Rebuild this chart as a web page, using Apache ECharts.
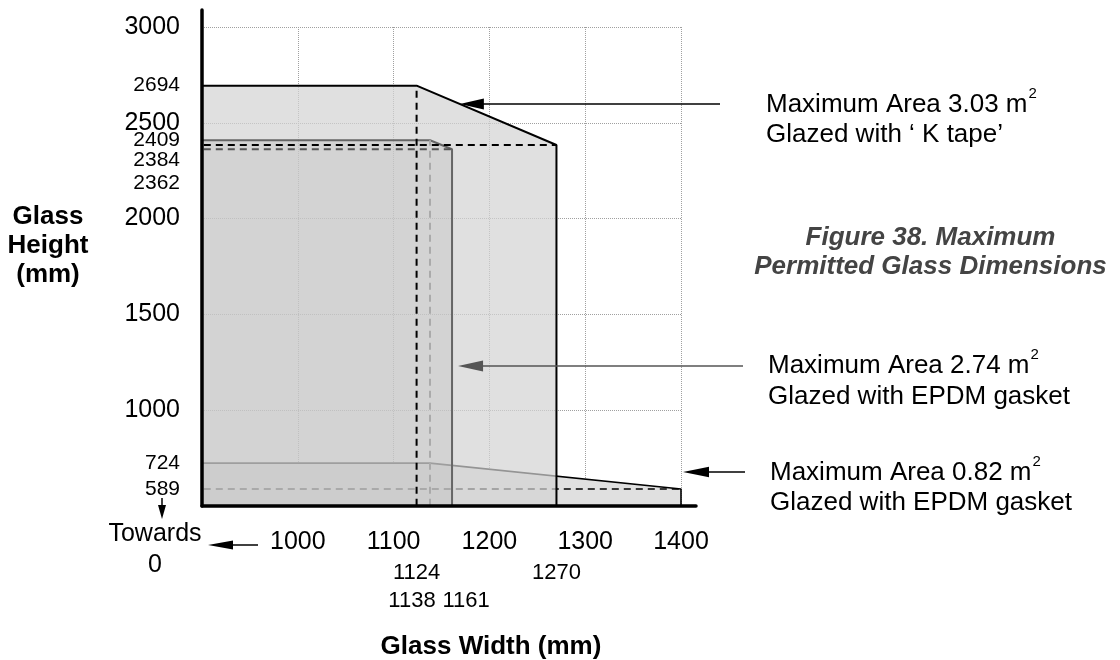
<!DOCTYPE html>
<html>
<head>
<meta charset="utf-8">
<script src="https://cdn.jsdelivr.net/npm/echarts@6/dist/echarts.min.js"></script>
<style>
html,body{margin:0;padding:0;background:#fff;}
#c{width:1120px;height:660px;}
</style>
</head>
<body>
<div id="c"></div>
<script>
// ---------------- data ----------------
const xTickValues = [1000, 1100, 1200, 1300, 1400];
const yTickValues = [1000, 1500, 2000, 2500, 3000];
const yMarkValues = [2694, 2409, 2384, 2362, 724, 589];
const xMarkRow2 = [1124, 1270];
const xMarkRow3 = [1138, 1161];

// K tape limit (3.03 m2)
const kTapeWidth  = [0, 1124, 1270, 1270];
const kTapeHeight = [2694, 2694, 2384, 0];
// EPDM gasket limit (2.74 m2)
const epdmWidth  = [0, 1138, 1161, 1161];
const epdmHeight = [2409, 2409, 2362, 0];
// EPDM gasket, wide panes (0.82 m2)
const gasketWidth  = [0, 1138, 1400, 1400];
const gasketHeight = [724, 724, 589, 0];

const maxAreas = ['3.03', '2.74', '0.82'];
const glazing = ['Glazed with \u2018 K tape\u2019', 'Glazed with EPDM gasket', 'Glazed with EPDM gasket'];

// ---------------- styling helpers ----------------
const FONT = '"Liberation Sans", Arial, sans-serif';
const zip = (xs, ys) => xs.map((x, i) => [x, ys[i]]);

const yBig = new Set(yTickValues);
const yShift = {2384: 15, 2362: 34};
const yRich = { big: {fontSize: 25, fontFamily: FONT, color: '#000'} };
yMarkValues.forEach(v => {
  const s = yShift[v] || 0;
  yRich['y' + v] = {fontSize: 21, fontFamily: FONT, color: '#000',
    padding: s >= 0 ? [2 * s, 0, 0, 0] : [0, 0, -2 * s, 0]};
});
const yLabelValues = yTickValues.concat(yMarkValues).sort((a, b) => a - b);

const xShift = {1138: -18, 1161: 14};
const xRich = {};
xMarkRow2.concat(xMarkRow3).forEach(v => {
  const s = xShift[v] || 0;
  xRich['x' + v] = {fontSize: 22, fontFamily: FONT, color: '#000',
    padding: s >= 0 ? [0, 0, 0, 2 * s] : [0, -2 * s, 0, 0]};
});

const X_MIN = 900, X_MAX = 1400;
const Y_MIN = 500, Y_MAX = 3000;
function xRowAxis(values, margin) {
  return {type: 'value', gridIndex: 0, position: 'bottom', min: X_MIN, max: X_MAX, interval: 100,
    axisLine: {show: false, onZero: false}, axisTick: {show: false}, splitLine: {show: false},
    axisLabel: {customValues: values, margin: margin, formatter: v => '{x' + v + '|' + v + '}', rich: xRich}};
}

function lineSeries(name, data, color, width, type, z, area) {
  const s = {name, type: 'line', xAxisIndex: 0, yAxisIndex: 0, data,
    symbol: 'none', showSymbol: false, silent: true, z,
    lineStyle: {color, width, type: type || 'solid'},
    emphasis: {disabled: true}};
  if (area) s.areaStyle = {color: area, opacity: 1};
  return s;
}

const option = {
  animation: false,
  backgroundColor: '#fff',
  grid: [
    {left: 202, top: 27, width: 479, height: 479},
    {left: 202, top: 10, width: 494, height: 496}
  ],
  xAxis: [
    {type: 'value', gridIndex: 0, position: 'bottom', min: X_MIN, max: X_MAX, interval: 100,
      axisLine: {show: false, onZero: false}, axisTick: {show: false},
      axisLabel: {customValues: xTickValues, margin: 24, fontSize: 25, fontFamily: FONT, color: '#000',
        formatter: v => String(v)},
      splitLine: {show: true, lineStyle: {color: '#a0a0a0', type: 'dotted', width: 1}}},
    xRowAxis(xMarkRow2, 56),
    xRowAxis(xMarkRow3, 84),
    {type: 'value', gridIndex: 1, position: 'bottom', min: 0, max: 1, z: 20,
      axisLine: {show: true, onZero: false, lineStyle: {color: '#000', width: 3.5}},
      axisTick: {show: false}, axisLabel: {show: false}, splitLine: {show: false}}
  ],
  yAxis: [
    {type: 'value', gridIndex: 0, position: 'left', min: Y_MIN, max: Y_MAX, interval: 500,
      axisLine: {show: false, onZero: false}, axisTick: {show: false},
      axisLabel: {customValues: yLabelValues, margin: 22,
        formatter: v => yBig.has(v) ? '{big|' + v + '}' : '{y' + v + '|' + v + '}', rich: yRich},
      splitLine: {show: true, lineStyle: {color: '#a0a0a0', type: 'dotted', width: 1}}},
    {type: 'value', gridIndex: 1, position: 'left', min: 0, max: 1, z: 20,
      axisLine: {show: true, onZero: false, lineStyle: {color: '#000', width: 3.5}},
      axisTick: {show: false}, axisLabel: {show: false}, splitLine: {show: false}}
  ],
  series: [
    lineSeries('gasket082', zip(gasketWidth, gasketHeight), '#000', 1.6, 'solid', 2, '#e0e0e0'),
    lineSeries('gasket082-h', [[0, gasketHeight[2]], [gasketWidth[2], gasketHeight[2]]], '#000', 1.6, [7, 5], 2),
    lineSeries('ktape', zip(kTapeWidth, kTapeHeight), '#000', 2, 'solid', 3, 'rgba(211,211,211,0.7)'),
    lineSeries('epdm', zip(epdmWidth, epdmHeight), '#666', 2, 'solid', 4, 'rgba(181,181,181,0.3)'),
    lineSeries('epdm-v', [[epdmWidth[1], 0], [epdmWidth[1], epdmHeight[1]]], '#aaa', 2, [7, 5], 5),
    lineSeries('epdm-h', [[0, epdmHeight[2]], [epdmWidth[2], epdmHeight[2]]], '#555', 2, [7, 5], 5),
    lineSeries('ktape-h', [[0, kTapeHeight[2]], [kTapeWidth[2], kTapeHeight[2]]], '#000', 2, [7, 5], 5),
    lineSeries('ktape-v', [[kTapeWidth[1], 0], [kTapeWidth[1], kTapeHeight[1]]], '#000', 2, [7, 5], 5)
  ]
};

const chart = echarts.init(document.getElementById('c'));
chart.setOption(option);

// ---------------- annotations ----------------
const P = (x, y) => chart.convertToPixel({seriesIndex: 0}, [x, y]);
const cv = document.createElement('canvas').getContext('2d');
function textW(str, size) { cv.font = size + 'px "Liberation Sans"'; return cv.measureText(str).width; }

function txt(x, y, text, font, align, fill, lineHeight) {
  return {type: 'text', silent: true, z: 100,
    style: {x, y, text, font, align, textAlign: align, verticalAlign: 'middle', textVerticalAlign: 'middle',
      fill: fill || '#000', lineHeight: lineHeight}};
}
function hArrow(tipX, y, tailX, color, headLen, half, lw) {
  return [
    {type: 'line', silent: true, z: 100, shape: {x1: tipX + headLen - 2, y1: y, x2: tailX, y2: y},
      style: {stroke: color, lineWidth: lw}},
    {type: 'polygon', silent: true, z: 100,
      shape: {points: [[tipX, y], [tipX + headLen, y - half], [tipX + headLen, y + half]]},
      style: {fill: color}}
  ];
}
function note(x, y1, y2, idx) {
  const main = 'Maximum Area ' + maxAreas[idx] + ' m';
  return [
    txt(x, y1, main, '26px ' + FONT, 'left'),
    txt(x + textW(main, 26) + 1, y1 - 11, '2', '15px ' + FONT, 'left'),
    txt(x, y2, glazing[idx], '26px ' + FONT, 'left')
  ];
}

// arrow tip on the K-tape slope at y = 104 px
const a = P(kTapeWidth[1], kTapeHeight[1]), b = P(kTapeWidth[2], kTapeHeight[2]);
const yK = 104;
const tK = (yK - a[1]) / (b[1] - a[1]);
const tipK = a[0] + tK * (b[0] - a[0]);
const tipE = P(epdmWidth[2], 1500)[0] + 6;
const tipG = P(gasketWidth[2], Y_MIN)[0] + 2;
const y589 = P(X_MIN, gasketHeight[2])[1];

let g = [];
g = g.concat(hArrow(tipK, yK, 720, '#000', 24, 5.5, 1.5));
g = g.concat(hArrow(tipE, 366, 743, '#555', 25, 5.5, 1.5));
g = g.concat(hArrow(tipG, 472, 745, '#000', 26, 5.3, 1.5));
g = g.concat(note(766, 104.6, 134.5, 0));
g = g.concat(note(768, 366, 397, 1));
g = g.concat(note(770, 472.5, 503, 2));

// "Towards 0" arrows
const downStart = y589 + 9, downTip = 519;
g.push({type: 'line', silent: true, z: 100, shape: {x1: 162, y1: downStart, x2: 162, y2: downTip - 10},
  style: {stroke: '#000', lineWidth: 1.5}});
g.push({type: 'polygon', silent: true, z: 100,
  shape: {points: [[162, downTip], [158, downTip - 14], [166, downTip - 14]]},
  style: {fill: '#000'}});
g = g.concat(hArrow(208, 545, 258, '#000', 25, 4.5, 1.5));
g.push(txt(155, 549.5, 'Towards\n0', '25px ' + FONT, 'center', '#000', 31));

// axis titles and caption
g.push(txt(48, 246, 'Glass\nHeight\n(mm)', 'bold 26px ' + FONT, 'center', '#000', 29));
g.push(txt(491, 647, 'Glass Width (mm)', 'bold 26px ' + FONT, 'center', '#000'));
g.push(txt(930.5, 252.5, 'Figure 38. Maximum\nPermitted Glass Dimensions', 'italic bold 26px ' + FONT, 'center', '#444', 29));

chart.setOption({graphic: {elements: g}});
</script>
</body>
</html>
